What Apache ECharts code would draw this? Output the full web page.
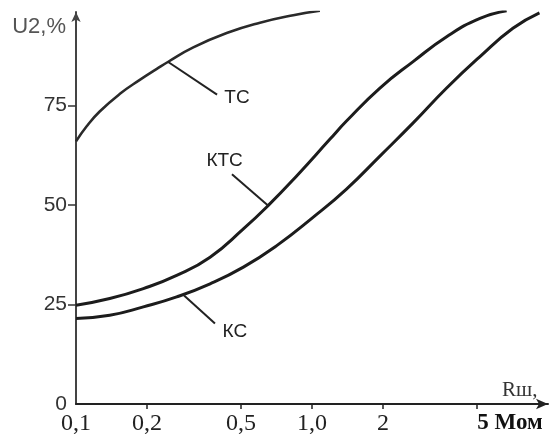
<!DOCTYPE html>
<html>
<head>
<meta charset="utf-8">
<script src="https://cdn.jsdelivr.net/npm/echarts@6/dist/echarts.min.js"></script>
<style>
  html, body { margin: 0; padding: 0; background: #fff; }
  #chart { width: 550px; height: 442px; }
</style>
</head>
<body>
<div id="chart"></div>
<script>
// R shunt, MOhm (log scale) and U2, %
var tcR = [0.1, 0.111, 0.126, 0.154, 0.187, 0.22, 0.246, 0.314, 0.435, 0.602, 0.833, 1.08];
var tcU = [66.0, 69.8, 73.5, 78.0, 81.5, 84.2, 86.0, 89.6, 93.2, 95.8, 97.7, 98.8];

var ktcR = [0.1, 0.139, 0.193, 0.267, 0.37, 0.512, 0.653, 0.861, 1.19, 1.4, 1.94, 2.69, 3.72, 5.15, 6.68];
var ktcU = [24.8, 26.5, 29.0, 32.3, 36.9, 44.0, 49.9, 57.3, 66.5, 71.1, 79.4, 86.1, 92.3, 96.9, 98.8];

var kcR = [0.1, 0.139, 0.193, 0.267, 0.37, 0.512, 0.709, 1.01, 1.4, 1.94, 2.69, 3.72, 5.15, 7.1, 9.2];
var kcU = [21.5, 22.3, 24.4, 26.9, 30.2, 34.4, 39.8, 46.9, 54.0, 62.3, 70.7, 79.4, 87.3, 94.4, 98.3];

var xTicks = [0.2, 0.5, 1, 2, 5];
var xLabels = [0.1, 0.2, 0.5, 1, 2, 5];
var xLabelText = { 0.1: '0,1', 0.2: '0,2', 0.5: '0,5', 1: '1,0', 2: '2', 5: '5 Мом' };
var yTicks = [25, 50, 75];
var yLabels = [0, 25, 50, 75];

var seriesNames = ['ТС', 'КТС', 'КС'];
// leader line [from curve, to label], label anchor (left-middle)
var leaders = {
  'ТС':  [[0.245, 86.0], [0.396, 77.75], [0.425, 77.0]],
  'КТС': [[0.651, 49.9], [0.458, 57.75], [0.357, 61.0]],
  'КС':  [[0.287, 27.25], [0.388, 20.25], [0.418, 18.25]]
};

function pairs(xs, ys) {
  return xs.map(function (x, i) { return [x, ys[i]]; });
}

var ink = '#1c1c1c';

function curve(name, xs, ys, width, color) {
  var l = leaders[name];
  return {
    name: name,
    type: 'line',
    smooth: 0.5,
    symbol: 'none',
    data: pairs(xs, ys),
    lineStyle: { color: color, width: width },
    markLine: {
      silent: true,
      symbol: ['none', 'none'],
      label: { show: false },
      lineStyle: { color: '#222', width: 2, type: 'solid' },
      data: [[{ coord: l[0] }, { coord: l[1] }]]
    },
    markPoint: {
      silent: true,
      symbol: 'circle',
      symbolSize: 0,
      data: [{ coord: l[2], value: name }],
      label: {
        show: true,
        position: 'inside',
        align: 'left',
        verticalAlign: 'middle',
        formatter: name,
        color: '#222',
        fontFamily: 'Liberation Sans',
        fontSize: 19
      }
    }
  };
}

var chart = echarts.init(document.getElementById('chart'));
chart.setOption({
  animation: false,
  backgroundColor: '#fff',
  grid: { left: 76, right: 2, top: 12, bottom: 38, containLabel: false },
  xAxis: {
    type: 'log',
    logBase: 10,
    min: 0.1,
    max: 10,
    name: 'Rш,',
    nameLocation: 'end',
    nameGap: -46,
    nameTextStyle: {
      fontFamily: 'Liberation Serif',
      fontSize: 21,
      color: '#333',
      align: 'left',
      verticalAlign: 'bottom',
      padding: [0, 0, 3, 0]
    },
    axisLine: {
      lineStyle: { color: '#222', width: 2 },
      symbol: ['none', 'arrow'],
      symbolSize: [8, 12]
    },
    axisTick: {
      show: true,
      customValues: xTicks,
      length: 5,
      lineStyle: { color: '#222', width: 1.5 }
    },
    axisLabel: {
      customValues: xLabels,
      margin: 8,
      fontFamily: 'Liberation Serif',
      fontSize: 24,
      color: '#222',
      formatter: function (v) {
        var key = Math.round(v * 10) / 10;
        var t = xLabelText[key] || '';
        if (key === 5) return '{b|' + t + '}';
        return t;
      },
      rich: {
        b: {
          fontFamily: 'Liberation Serif',
          fontSize: 23,
          fontWeight: 'bold',
          color: '#111',
          padding: [0, 0, 0, 66]
        }
      }
    },
    splitLine: { show: false },
    minorTick: { show: false }
  },
  yAxis: {
    type: 'value',
    min: 0,
    max: 98.5,
    name: 'U2,%',
    nameLocation: 'end',
    nameGap: -15,
    nameTextStyle: {
      fontFamily: 'Liberation Sans',
      fontSize: 22,
      color: '#555',
      align: 'right',
      verticalAlign: 'middle',
      padding: [0, 10, 0, 0]
    },
    axisLine: {
      show: true,
      lineStyle: { color: '#444', width: 2 },
      symbol: ['none', 'arrow'],
      symbolSize: [7, 10]
    },
    axisTick: {
      show: true,
      customValues: yTicks,
      length: 8,
      lineStyle: { color: '#333', width: 1.5 }
    },
    axisLabel: {
      customValues: yLabels,
      margin: 9,
      fontFamily: 'Liberation Sans',
      fontSize: 21,
      color: '#333'
    },
    splitLine: { show: false }
  },
  series: [
    curve(seriesNames[0], tcR, tcU, 2.6, '#2a2a2a'),
    curve(seriesNames[1], ktcR, ktcU, 3, ink),
    curve(seriesNames[2], kcR, kcU, 3, ink)
  ]
});
</script>
</body>
</html>
